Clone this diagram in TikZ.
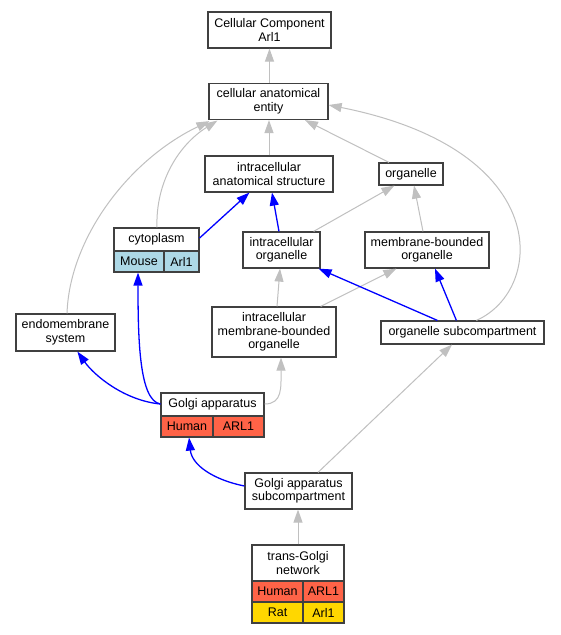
\documentclass[tikz,border=0pt]{standalone}
\usepackage{fontspec}
\setmainfont{Liberation Sans}
\usetikzlibrary{arrows.meta,calc}
\definecolor{humanc}{HTML}{FF6347}
\definecolor{mousec}{HTML}{ADD8E6}
\definecolor{ratc}{HTML}{FFD700}
\definecolor{edgegray}{HTML}{C0C0C0}
\definecolor{bordergray}{HTML}{404040}
\begin{document}
\begin{tikzpicture}[x=1pt,y=-1pt,
  box/.style={draw=bordergray, line width=1.2pt, fill=white, inner sep=0pt, align=center,
    font=\fontsize{12.5}{13.5}\selectfont},
  sz/.style 2 args={minimum width=#1pt, minimum height=#2pt},
  human/.style={fill=humanc},
  mouse/.style={fill=mousec},
  rat/.style={fill=ratc},
  ge/.style={draw=edgegray, line width=1pt, -{Triangle[length=13pt,width=9pt,fill=edgegray]}},
  be/.style={draw=blue, line width=1.3pt, -{Triangle[length=13pt,width=9pt,fill=blue]}}
]
\useasboundingbox[fill=white] (0,0) rectangle (560,635);

% nodes
\node[box, sz={123}{36}] (cc) at (269.5,30) {Cellular Component\\Arl1};
\node[box, sz={119}{36}] (cae) at (268.5,101.5) {cellular anatomical\\entity};
\node[box, sz={128}{36}] (ias) at (269,174) {intracellular\\anatomical structure};
\node[box, sz={64}{22}] (org) at (411,174) {organelle};
\node[box, sz={85}{23}] (cyto) at (156.5,239.5) {cytoplasm};
\node[box, mouse, sz={50}{21}] (cytoM) at (139,261.5) {Mouse};
\node[box, mouse, sz={35}{21}] (cytoA) at (181.5,261.5) {Arl1};
\node[box, sz={99}{37}] (endo) at (65.5,332.5) {endomembrane\\system};
\node[box, sz={77}{36}] (io) at (281.5,250) {intracellular\\organelle};
\node[box, sz={124}{36}] (mbo) at (427,250) {membrane-bounded\\organelle};
\node[box, sz={163}{23}] (osc) at (462.5,332.5) {organelle subcompartment};
\node[box, sz={124}{50}] (imbo) at (274,332) {intracellular\\membrane-bounded\\organelle};
\node[box, sz={103}{23}] (golgi) at (212.5,404.5) {Golgi apparatus};
\node[box, human, sz={52}{21}] (golgiH) at (187,426.5) {Human};
\node[box, human, sz={51}{21}] (golgiA) at (238.5,426.5) {ARL1};
\node[box, sz={107}{36}] (gasc) at (298.5,491) {Golgi apparatus\\subcompartment};
\node[box, sz={92}{36}] (tgn) at (298,563) {trans-Golgi\\network};
\node[box, human, sz={51}{21}] (tgnH) at (277.5,591.5) {Human};
\node[box, human, sz={41}{21}] (tgnA) at (323.5,591.5) {ARL1};
\node[box, rat, sz={51}{21}] (tgnR) at (277.5,612.5) {Rat};
\node[box, rat, sz={41}{21}] (tgnB) at (323.5,612.5) {Arl1};

% gray edges
\draw[ge] ($(cae.north)+(1,0)$) -- (cc.south);
\draw[ge] (ias.north) -- ($(cae.south)+(0.5,0)$);
\draw[ge] ($(org.north)+(-22,0)$) -- ($(cae.south)+(36.5,0)$);
\draw[ge] ($(cyto.north)+(0.5,0)$) .. controls ($(cyto.north)+(-1,-45)$) and ($(cae.south west)+(-30,25)$) .. ($(cae.south west)+(9,0.5)$);
\draw[ge] ($(endo.north)+(1.5,0)$) .. controls ($(endo.north)+(4,-75)$) and ($(cae.south west)+(-80,40)$) .. ($(cae.south west)+(1,1)$);
\draw[ge] ($(io.north east)+(-7,0)$) -- ($(org.south west)+(16,0)$);
\draw[ge] ($(mbo.north)+(-4,0)$) -- ($(org.south)+(3,0)$);
\draw[ge] ($(imbo.north)+(3,0)$) -- ($(io.south)+(-1.5,0)$);
\draw[ge] ($(imbo.north east)+(-16,0)$) -- ($(mbo.south west)+(32,0)$);
\draw[ge] ($(osc.north west)+(96,0)$) .. controls (545,290) and (555,150) .. ($(cae.east)+(0,3.5)$);
\draw[ge] ($(golgi.east)+(0,-0.5)$) .. controls ($(golgi.east)+(18,-0.5)$) and ($(imbo.south)+(7,30)$) .. ($(imbo.south)+(7,0)$);
\draw[ge] ($(gasc.north)+(19.5,0)$) -- ($(osc.south)+(-10.5,0)$);
\draw[ge] (tgn.north) -- ($(gasc.south)+(-0.5,0)$);

% blue edges
\draw[be] ($(cyto.east)+(0,-1.5)$) -- ($(ias.south west)+(45,0)$);
\draw[be] ($(io.north)+(-2.5,0)$) -- ($(ias.south)+(3,0)$);
\draw[be] ($(osc.north west)+(57,0)$) -- ($(io.south east)+(-2,0)$);
\draw[be] ($(osc.north west)+(76,0)$) -- ($(mbo.south)+(8,0)$);
\draw[be] ($(golgi.west)+(0,-0.5)$) .. controls ($(golgi.west)+(-36,-4)$) and ($(endo.south west)+(79,24)$) .. ($(endo.south west)+(62,0)$);
\draw[be] ($(golgi.west)+(0,-0.5)$) .. controls ($(golgi.west)+(-21,-4)$) and ($(cytoM.south)+(-1,68)$) .. ($(cytoM.south)+(-1,0)$);
\draw[be] ($(gasc.west)+(0,-5)$) .. controls ($(gasc.west)+(-30,-11)$) and ($(golgiH.south)+(5,28)$) .. ($(golgiH.south)+(2,0)$);
\end{tikzpicture}
\end{document}
